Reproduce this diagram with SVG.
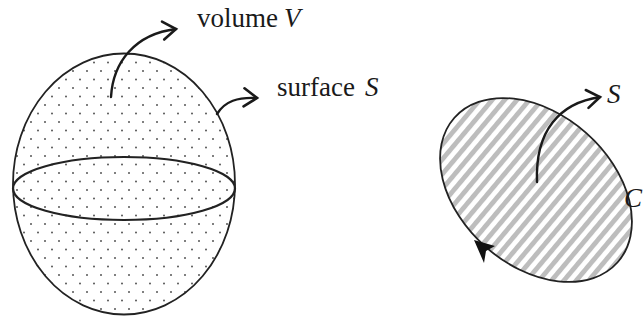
<svg xmlns="http://www.w3.org/2000/svg" width="643" height="320" viewBox="0 0 643 320">
<style>
.outline{stroke:#222;stroke-width:1.8}
.arrow{fill:none;stroke:#1a1a1a;stroke-width:2.4;stroke-linecap:round}
.lbl{font-family:"Liberation Serif","Times New Roman",serif;font-size:27px;fill:#1a1a1a}
.it{font-style:italic}
</style>
<defs>
<pattern id="dots" x="0" y="0" width="14" height="17" patternUnits="userSpaceOnUse">
<circle cx="3" cy="3" r="1" fill="#555"/>
<circle cx="10" cy="11.5" r="1" fill="#555"/>
</pattern>
<pattern id="hatch" width="9.5" height="9.5" patternUnits="userSpaceOnUse" patternTransform="rotate(-1.5)">
<rect x="0" y="0" width="9.5" height="9.5" fill="#fff"/>
<rect x="0" y="0" width="4.8" height="9.5" fill="#bdbdbd"/>
</pattern>
<marker id="chev" markerUnits="userSpaceOnUse" markerWidth="30" markerHeight="30" refX="15" refY="15" orient="auto" viewBox="0 0 30 30">
<path d="M2,6 L15,15 L2,24" fill="none" stroke="#1a1a1a" stroke-width="2.6" stroke-linejoin="miter" stroke-linecap="round"/>
</marker>
</defs>
<rect width="643" height="320" fill="#fff"/>
<g id="sphere">
<ellipse cx="124" cy="184" rx="111" ry="130.5" fill="url(#dots)" class="outline"/>
<ellipse cx="124" cy="188.5" rx="111" ry="31.5" fill="none" stroke="#222" stroke-width="2.2"/>
</g>
<g id="disk">
<ellipse cx="536" cy="190" rx="109" ry="76" transform="rotate(41.5 536 190)" fill="url(#hatch)" class="outline"/>
<path d="M474,240 L495,246 L486,251 L484,263 Z" fill="#111"/>
</g>
<g id="connectors">
<path class="arrow" d="M111,97 C113,62 135,34 176,29" marker-end="url(#chev)"/>
<path class="arrow" d="M217,114 C225,101 238,97 257,98" marker-end="url(#chev)"/>
<path class="arrow" d="M537,182 C535,130 560,103 600,97" marker-end="url(#chev)"/>
</g>
<g id="labels">
<text class="lbl" x="197" y="27">volume <tspan class="it" x="284">V</tspan></text>
<text class="lbl" x="277" y="96">surface <tspan class="it" x="365">S</tspan></text>
<text class="lbl it" x="607" y="103">S</text>
<text class="lbl it" x="624" y="207">C</text>
</g>
</svg>
